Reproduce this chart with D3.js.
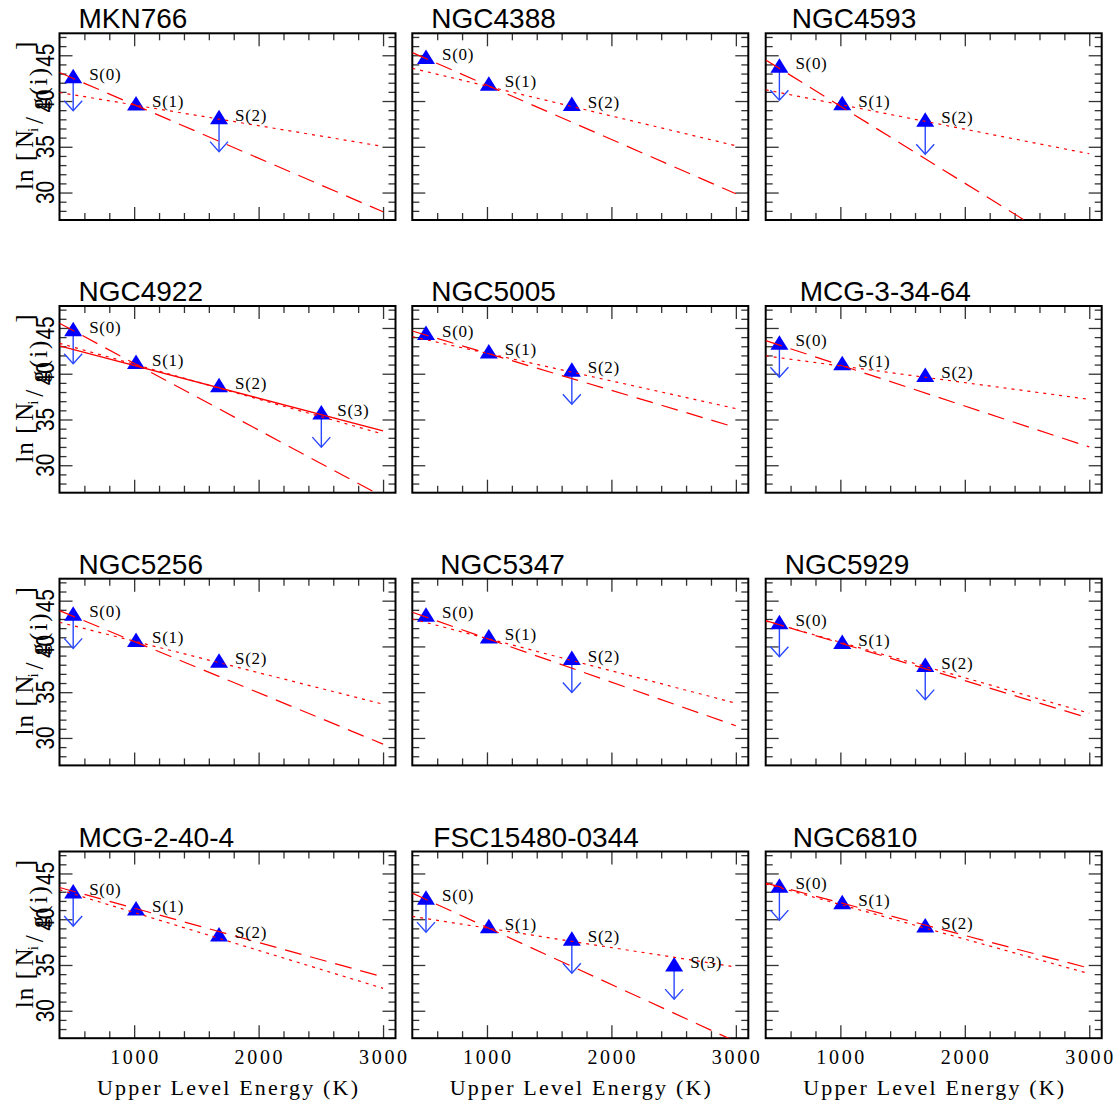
<!DOCTYPE html>
<html>
<head>
<meta charset="utf-8">
<script src="https://cdn.jsdelivr.net/npm/d3@7"></script>
<style>
  html, body { margin: 0; padding: 0; background: #fff; }
  svg { display: block; }
</style>
</head>
<body>
<svg id="chart" width="1120" height="1106"></svg>
<script>
// ---------------- data ----------------
const galaxies = ["MKN766","NGC4388","NGC4593","NGC4922","NGC5005","MCG-3-34-64",
                  "NGC5256","NGC5347","NGC5929","MCG-2-40-4","FSC15480-0344","NGC6810"];
const lineLabels = ["S(0)","S(1)","S(2)","S(3)"];
const upperEnergy = [510, 1015, 1682, 2504];          // K
const lnColumn = [                                     // ln[N_i/g(i)]
  [42.70, 39.73, 38.24],
  [44.82, 41.89, 39.67],
  [43.85, 39.75, 37.96],
  [44.87, 41.27, 38.73, 35.75],
  [44.44, 42.42, 40.44],
  [43.38, 41.15, 39.87],
  [43.56, 40.71, 38.44],
  [43.45, 41.09, 38.73],
  [42.65, 40.47, 37.96],
  [43.02, 41.16, 38.33],
  [42.36, 39.24, 37.86, 35.04],
  [43.67, 41.85, 39.31]
];
const isUpperLimit = [
  [1,0,1],[0,0,0],[1,0,1],[1,0,0,1],[0,0,1],[1,0,0],
  [1,0,0],[0,0,1],[1,0,1],[1,0,0],[1,0,1,1],[1,0,0]
];
const limitDrop = 3.77;                                // arrow length, ln units
const fitEnergy = [400, 3000];
const dashedFit = [[43.11,27.90],[45.29,29.87],[44.49,22.60],[45.51,26.55],[44.67,34.13],[43.62,32.00],
                   [43.91,29.33],[43.73,31.33],[42.82,32.16],[43.47,33.70],[42.85,26.63],[43.95,34.65]];
const dottedFit = [[40.93,35.04],[43.58,35.11],[41.22,34.24],[43.33,33.40],[44.05,36.19],[41.95,37.20],
                   [42.64,33.69],[43.00,33.80],[42.78,32.70],[43.22,32.45],[40.31,34.78],[43.87,34.05]];
const solidFit  = [null,null,null,[43.04,33.76],null,null,null,null,null,null,null,null];
const xDomain = [400, 3100];
const yDomain = [27, 47.4];
const xTickLabels = [1000, 2000, 3000];
const xMinorTicks = d3.range(600, 3100, 200).filter(v => v % 1000 !== 0);
const yTickLabels = [30, 35, 40, 45];
const yMinorTicks = d3.range(28, 48, 1).filter(v => v % 5 !== 0);
const xTitle = "Upper Level Energy (K)";

// ---------------- layout ----------------
const colLeft = [59.5, 412.3, 765.7];
const rowTop  = [33.3, 306, 578.7, 851.5];
const pw = 336, ph = 186.7;
const titleDx = [19, 19, 26, 19, 19, 34, 19, 28, 19, 19, 21, 27];
const majorLen = 13, minorLen = 7;

const svg = d3.select("#chart");
const x = d3.scaleLinear().domain(xDomain).range([0, pw]);
const y = d3.scaleLinear().domain(yDomain).range([ph, 0]);
const line = d3.line().x(d => x(d[0])).y(d => y(d[1]));

function tickAxis(g, axis) {
  g.call(axis);
  g.select(".domain").remove();
  g.selectAll(".tick line").attr("stroke", "#333").attr("stroke-width", 1.3);
}

galaxies.forEach((name, i) => {
  const r = Math.floor(i / 3), c = i % 3;
  const g = svg.append("g").attr("transform", `translate(${colLeft[c]},${rowTop[r]})`);

  // clip
  g.append("clipPath").attr("id", "clip" + i)
    .append("rect").attr("width", pw).attr("height", ph);

  // ticks (inward, mirrored on all sides)
  [[d3.axisLeft, 0, 0], [d3.axisRight, pw, 0]].forEach(([fn, tx, ty]) => {
    tickAxis(g.append("g").attr("transform", `translate(${tx},${ty})`),
      fn(y).tickValues(yTickLabels).tickSize(-majorLen).tickFormat(""));
    tickAxis(g.append("g").attr("transform", `translate(${tx},${ty})`),
      fn(y).tickValues(yMinorTicks).tickSize(-minorLen).tickFormat(""));
  });
  [[d3.axisTop, 0, 0], [d3.axisBottom, 0, ph]].forEach(([fn, tx, ty]) => {
    tickAxis(g.append("g").attr("transform", `translate(${tx},${ty})`),
      fn(x).tickValues(xTickLabels).tickSize(-majorLen).tickFormat(""));
    tickAxis(g.append("g").attr("transform", `translate(${tx},${ty})`),
      fn(x).tickValues(xMinorTicks).tickSize(-minorLen).tickFormat(""));
  });

  // frame
  g.append("rect").attr("width", pw).attr("height", ph)
    .attr("fill", "none").attr("stroke", "#000").attr("stroke-width", 2);

  // title
  g.append("text").attr("x", titleDx[i]).attr("y", -5)
    .attr("font-family", "Liberation Sans, Arial, sans-serif")
    .attr("font-size", 28).attr("fill", "#000").text(name);

  const pts = lnColumn[i].map((v, k) => ({ e: upperEnergy[k], v, lim: isUpperLimit[i][k], lab: lineLabels[k] }));
  const plot = g.append("g").attr("clip-path", `url(#clip${i})`);

  // upper-limit arrows
  pts.filter(p => p.lim).forEach(p => {
    const cx = x(p.e), y0 = y(p.v), y1 = y(p.v - limitDrop);
    const a = plot.append("g").attr("stroke", "#2a48ff").attr("stroke-width", 1.4).attr("fill", "none");
    a.append("line").attr("x1", cx).attr("x2", cx).attr("y1", y0).attr("y2", y1);
    a.append("path").attr("d", `M${cx - 9},${y1 - 10}L${cx},${y1}L${cx + 9},${y1 - 10}`);
  });

  // triangles
  plot.selectAll("path.tri").data(pts).join("path").attr("class", "tri")
    .attr("d", p => { const cx = x(p.e), cy = y(p.v); return `M${cx},${cy - 7.5}L${cx + 9},${cy + 7}L${cx - 9},${cy + 7}Z`; })
    .attr("fill", "#0000ff");

  // labels
  g.selectAll("text.lab").data(pts).join("text").attr("class", "lab")
    .attr("x", p => x(p.e) + 16).attr("y", p => y(p.v) - 2)
    .attr("dominant-baseline", "central")
    .attr("font-family", "Liberation Serif, Times New Roman, serif")
    .attr("font-size", 17).attr("letter-spacing", 0.7).attr("fill", "#000")
    .text(p => p.lab);

  // fits
  const fitLine = (vals, dash, w) => plot.append("path")
    .attr("d", line(fitEnergy.map((e, k) => [e, vals[k]])))
    .attr("fill", "none").attr("stroke", "#ff0000").attr("stroke-width", w)
    .attr("stroke-dasharray", dash);
  fitLine(dashedFit[i], "17,9", 1.2);
  fitLine(dottedFit[i], "3,5", 1.2);
  if (solidFit[i]) fitLine(solidFit[i], null, 1.3);

  // left column: y labels and title
  if (c === 0) {
    yTickLabels.forEach(v => {
      g.append("text")
        .attr("transform", `translate(${45 - colLeft[0]},${y(v)}) rotate(-90) scale(0.8,1)`)
        .attr("text-anchor", "middle").attr("dominant-baseline", "central")
        .attr("font-family", "Liberation Sans, Arial, sans-serif")
        .attr("font-size", 26).attr("fill", "#000").text(v);
    });
    const t = g.append("text")
      .attr("transform", `translate(${33 - colLeft[0]},${156.7}) rotate(-90)`)
      .attr("font-family", "Liberation Serif, Times New Roman, serif")
      .attr("font-size", 25).attr("fill", "#000");
    t.append("tspan").attr("x", 0).attr("y", 0).attr("letter-spacing", 1).text("ln");
    t.append("tspan").attr("x", 29).attr("y", 0).text("[");
    t.append("tspan").attr("x", 42).attr("y", 0).text("N");
    t.append("tspan").attr("x", 58).attr("y", 5).attr("font-size", 15).text("i");
    t.append("tspan").attr("x", 66).attr("y", 10).text("/");
    t.append("tspan").attr("x", 80).attr("y", 14).attr("letter-spacing", 2).text("g(i)");
    t.append("tspan").attr("x", 140).attr("y", 0).text("]");
  }

  // bottom row: x labels and title
  if (r === 3) {
    xTickLabels.forEach(v => {
      g.append("text").attr("x", x(v)).attr("y", ph + 19)
        .attr("text-anchor", "middle").attr("dominant-baseline", "central")
        .attr("font-family", "Liberation Serif, Times New Roman, serif")
        .attr("font-size", 20).attr("textLength", 48).attr("lengthAdjust", "spacing")
        .attr("fill", "#000").text(v);
    });
    g.append("text").attr("x", pw / 2).attr("y", ph + 49)
      .attr("text-anchor", "middle").attr("dominant-baseline", "central")
      .attr("font-family", "Liberation Serif, Times New Roman, serif")
      .attr("font-size", 22).attr("textLength", 261).attr("lengthAdjust", "spacing")
      .attr("fill", "#000").text(xTitle);
  }
});
</script>
</body>
</html>
